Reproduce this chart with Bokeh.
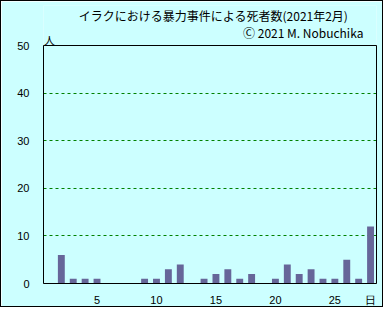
from bokeh.plotting import figure
from bokeh.models import FixedTicker, ColumnDataSource, LinearAxis, Span
from bokeh.core.properties import value
from bokeh.embed import file_html
from bokeh.resources import INLINE

days = list(range(1, 29))
deaths = [0, 6, 1, 1, 1, 0, 0, 0, 1, 1, 3, 4, 0, 1, 2, 3, 1, 2, 0, 1, 4, 2, 3, 1, 1, 5, 1, 12]
x_ticks = [5, 10, 15, 20, 25, 28]
x_tick_labels = ["5", "10", "15", "20", "25", "日"]
y_ticks = [0, 10, 20, 30, 40, 50]
x_min, x_max = 0.5, 28.5
y_min, y_max = 0, 50
title_text = "イラクにおける暴力事件による死者数(2021年2月)"
credit_text = "Ⓒ 2021 M. Nobuchika"
unit_text = "人"

BG = "#CCFFFF"
# plotting box: 238 px tall; the Bokeh frame extends 40 px higher so the texts fit inside it
px_y = 238 / (y_max - y_min)
p = figure(width=383, height=307,
           x_range=(x_min, x_max),
           y_range=(y_min, y_max + 40 / px_y),
           output_backend="svg", toolbar_location=None,
           min_border_left=42, min_border_right=8, min_border_top=4, min_border_bottom=25)
p.styles = {"border": "1px solid black"}
p.title.visible = False
p.background_fill_color = BG
p.border_fill_color = BG
p.outline_line_color = None

p.ygrid.ticker = FixedTicker(ticks=[10, 20, 30, 40])
p.ygrid.grid_line_color = "#008000"
p.ygrid.grid_line_dash = "3 3"
p.ygrid.grid_line_width = 1
p.xgrid.visible = False

src = ColumnDataSource(dict(x=days, top=deaths))
p.vbar(x="x", top="top", width=0.58, source=src, fill_color="#666699", line_color=None)

# outline of the plotting box
p.line(x=[x_min, x_max, x_max, x_min, x_min], y=[y_min, y_min, y_max, y_max, y_min],
       line_color="black", line_width=1)

right_axis = LinearAxis(ticker=FixedTicker(ticks=[]), bounds=(y_min, y_max))
p.add_layout(right_axis, "right")

for ax in (p.xaxis[0], p.yaxis[0], right_axis):
    ax.axis_line_color = "black"
    ax.axis_line_width = 1
    ax.major_tick_line_color = None
    ax.minor_tick_line_color = None
    ax.major_tick_out = 0
    ax.major_tick_in = 0
    ax.major_label_text_font = "Liberation Sans"
    ax.major_label_text_font_size = "11px"
    ax.major_label_text_color = "black"

p.xaxis.ticker = FixedTicker(ticks=x_ticks)
p.xaxis.major_label_overrides = {t: l for t, l in zip(x_ticks, x_tick_labels)}
p.xaxis.major_label_standoff = 10
p.yaxis[0].ticker = FixedTicker(ticks=y_ticks)
p.yaxis[0].bounds = (y_min, y_max)
p.yaxis[0].major_label_standoff = 14

p.add_layout(Span(location=y_max, dimension="width", line_color="black", line_width=1))

def add_text(x, y, text, size, align):
    p.text(x=[x], y=[y], text=[text], text_align=align, text_baseline="middle",
           text_font=value("Noto Sans CJK JP"), text_font_size=value(size),
           text_color="black")

add_text(14.8, 56.3, title_text, "12px", "center")
add_text(27.4, 52.7, credit_text, "12px", "right")
add_text(1.0, 51.1, unit_text, "11px", "center")

open("out.html", "w").write(file_html(p, INLINE))
